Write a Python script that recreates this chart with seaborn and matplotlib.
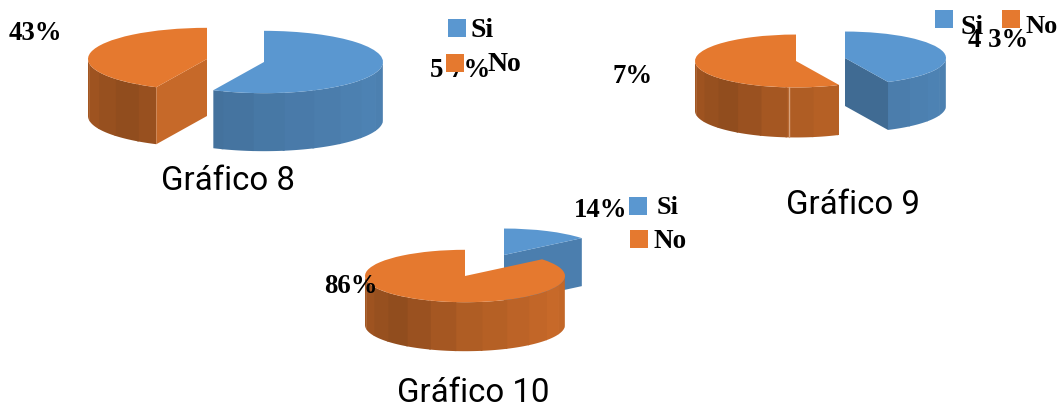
import numpy as np
import matplotlib
matplotlib.use("Agg")
import matplotlib.pyplot as plt
import seaborn as sns

# ---- data ----
categories = ["Si", "No"]
grafico_8 = [57, 43]
grafico_9 = [43, 57]
grafico_10 = [14, 86]
titles = ["Gráfico 8", "Gráfico 9", "Gráfico 10"]
labels_8 = ["5 7%", "43%"]
labels_9 = ["4 3%", "7%"]
labels_10 = ["14%", "86%"]

sns.set_theme(style="white")
palette = ["#5A97D0", "#E5792F"]

W, H = 1057, 406
SQUASH = 0.262  # vertical foreshortening of every pie

fig = plt.figure(figsize=(W / 100, H / 100), dpi=100)
ax = fig.add_axes([0, 0, 1, 1])


def Y(py):
    return (H - py) / SQUASH


def shade(phi, kind):
    """Brightness of a side facet whose normal is phi degrees right of front."""
    if kind == 0:
        return np.interp(phi, [-90, -50, 0, 60, 90], [0.70, 0.71, 0.79, 0.86, 0.84])
    return np.interp(phi, [-90, -40, 0, 60, 90], [0.72, 0.63, 0.76, 0.87, 0.84])


def tint(color, f):
    return tuple(np.clip(np.array(matplotlib.colors.to_rgb(color)) * f, 0, 1))


def rim(cx, cy, r, c):
    c = np.radians(c)
    return cx + r * np.sin(c), Y(cy) + r * np.cos(c)


def draw_slice(frac, start, cx, cy, r, depth, idx, step=15.0, phase=5.0):
    color = palette[idx]
    a, b = start, start + 360 * frac
    d = depth / SQUASH
    cyd = Y(cy)
    # curved outer wall (front half only); each facet overlaps the next to hide seams
    lo, hi = max(a, 90), min(b, 270)
    if hi > lo:
        edges = np.arange(90 + phase % step, 270, step)
        edges = np.r_[lo, edges[(edges > lo) & (edges < hi)], hi]
        for e0, e1 in zip(edges[:-1], edges[1:]):
            t = np.linspace(e0, min(e1 + 1.0, hi), 12)
            xs = cx + r * np.sin(np.radians(t))
            ys = cyd + r * np.cos(np.radians(t))
            ax.fill(np.r_[xs, xs[::-1]], np.r_[ys, ys[::-1] - d],
                    color=tint(color, shade(180 - (e0 + e1) / 2, idx)), lw=0, zorder=2)
    # flat cut faces that turn towards the viewer
    for edge, normal in ((a, a - 90), (b, b + 90)):
        if np.cos(np.radians(normal)) < -1e-6:
            x1, y1 = rim(cx, cy, r, edge)
            phi = 180 - (normal % 360)
            ax.fill([cx, x1, x1, cx], [cyd, y1, y1 - d, cyd - d],
                    color=tint(color, shade(phi, idx)), lw=0, zorder=2)
    # top face through the library's pie
    wedges, _ = ax.pie([frac], colors=[color], center=(cx, cyd), radius=r,
                       startangle=90 - a, counterclock=False, normalize=False,
                       frame=True, wedgeprops=dict(linewidth=0))
    for w in wedges:
        w.set_zorder(3)


def draw_label(s, x, py, size=19.3, z=5):
    ax.text(x, Y(py), s, family="Liberation Serif", weight="bold", fontsize=size,
            color="black", ha="left", va="baseline", zorder=z)


def draw_key(x, py, idx):
    ax.scatter([x], [Y(py)], marker="s", s=150, color=palette[idx], linewidths=0, zorder=6)


# Gráfico 8
draw_slice(grafico_8[0] / 100, 0, 264, 63, 119, 58, 0)
draw_slice(grafico_8[1] / 100, 360 * grafico_8[0] / 100, 207, 60, 119, 57, 1)
# Gráfico 9
draw_slice(grafico_9[0] / 100, 0, 845, 59, 101, 48, 0)
draw_slice(grafico_9[1] / 100, 360 * grafico_9[0] / 100, 796, 62, 101, 50, 1)
seam = rim(796, 62, 101, 184)
ax.plot([seam[0], seam[0]], [seam[1], seam[1] - 50 / SQUASH], color="#D9A37C", lw=1.0, zorder=4)
# Gráfico 10
draw_slice(grafico_10[0] / 100, 0, 504, 256, 101, 48, 0)
draw_slice(grafico_10[1] / 100, 360 * grafico_10[0] / 100, 465, 277, 100, 49, 1)

ax.set_aspect("auto")
ax.set_xlim(0, W)
ax.set_ylim(0, H / SQUASH)
ax.set_xticks([])
ax.set_yticks([])
for s in ax.spines.values():
    s.set_visible(False)

# percentage labels
draw_label(labels_8[1], 9, 40)
draw_label(labels_8[0], 430, 77)
draw_label(labels_9[1], 613, 83)
draw_label(labels_9[0], 968, 47)
draw_label(labels_10[0], 574, 217)
draw_label(labels_10[1], 324, 293)

# legends
for (x, py, idx) in [(457, 29, 0), (455, 64, 1), (944, 20, 0), (1011, 20, 1), (638, 207, 0), (639, 240, 1)]:
    draw_key(x, py, idx)
draw_label(categories[0], 470, 37, 20)
draw_label(categories[1], 488, 71, 20)
draw_label(categories[0], 960, 34, 20)
draw_label(categories[1], 1026, 33, 19)
draw_label(categories[0], 657, 214, 19)
draw_label(categories[1], 654, 248, 19.5)

# titles
for t, x, py in zip(titles, [161, 786, 397], [190, 214, 402]):
    ax.text(x, Y(py), t, family="Roboto", fontsize=23.8, color="black",
            ha="left", va="baseline", zorder=5)

fig.savefig("out.png", dpi=100, facecolor="white")
